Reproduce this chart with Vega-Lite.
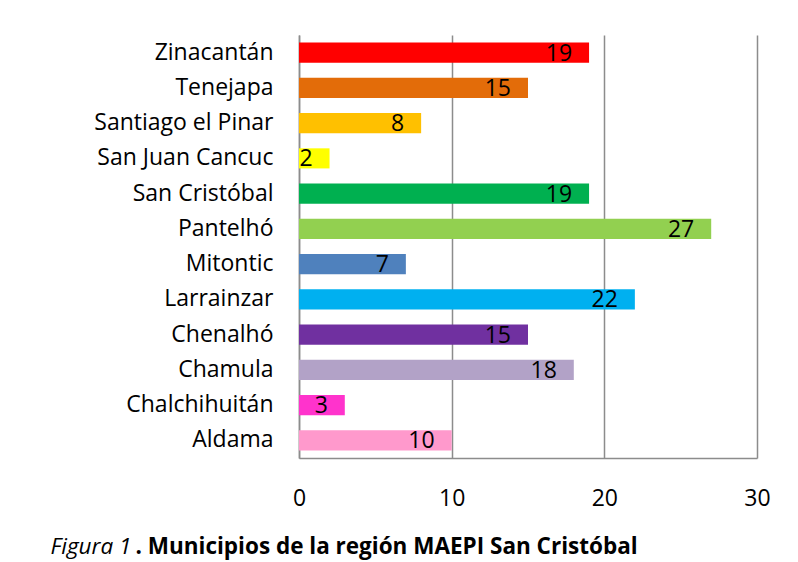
{
  "$schema": "https://vega.github.io/schema/vega-lite/v6.json",
  "width": 458,
  "height": 423,
  "autosize": {"type": "none"},
  "padding": {"left": 299, "top": 35, "right": 41, "bottom": 104},
  "background": "white",
  "config": {
    "font": "Open Sans",
    "view": {"stroke": null},
    "axis": {"labelFont": "Open Sans", "titleFont": "Open Sans", "labelColor": "#000000", "titleColor": "#000000"}
  },
  "data": {
    "values": [
      {"municipio": "Zinacantán", "valor": 19, "color": "#FF0000"},
      {"municipio": "Tenejapa", "valor": 15, "color": "#E36C09"},
      {"municipio": "Santiago el Pinar", "valor": 8, "color": "#FFC000"},
      {"municipio": "San Juan Cancuc", "valor": 2, "color": "#FFFF00"},
      {"municipio": "San Cristóbal", "valor": 19, "color": "#00B050"},
      {"municipio": "Pantelhó", "valor": 27, "color": "#92D050"},
      {"municipio": "Mitontic", "valor": 7, "color": "#4F81BD"},
      {"municipio": "Larrainzar", "valor": 22, "color": "#00B0F0"},
      {"municipio": "Chenalhó", "valor": 15, "color": "#7030A0"},
      {"municipio": "Chamula", "valor": 18, "color": "#B2A2C7"},
      {"municipio": "Chalchihuitán", "valor": 3, "color": "#FF33CC"},
      {"municipio": "Aldama", "valor": 10, "color": "#FF99CC"}
    ]
  },
  "encoding": {
    "y": {
      "field": "municipio",
      "type": "nominal",
      "sort": null,
      "scale": {"paddingInner": 0.43, "paddingOuter": 0.215},
      "axis": {
        "title": "Figura 1",
        "titleAngle": 0,
        "titleX": -249,
        "titleY": 518,
        "titleAlign": "left",
        "titleBaseline": "alphabetic",
        "titleFontSize": 22.5,
        "titleFontStyle": "italic",
        "titleFontWeight": "normal",
        "labelFontSize": 23,
        "labelPadding": 26,
        "ticks": false,
        "domainColor": "#8C8C8C",
        "domainWidth": 1.5,
        "grid": false
      }
    },
    "x": {
      "field": "valor",
      "type": "quantitative",
      "scale": {"domain": [0, 30], "nice": false},
      "axis": {
        "values": [0, 10, 20, 30],
        "title": ". Municipios de la región MAEPI San Cristóbal",
        "titleX": -164,
        "titleY": 95,
        "titleAlign": "left",
        "titleAnchor": null,
        "titleBaseline": "alphabetic",
        "titleFontSize": 22.5,
        "titleFontWeight": "bold",
        "labelFontSize": 23,
        "labelPadding": 29,
        "labelFlush": false,
        "ticks": false,
        "grid": true,
        "gridColor": "#8C8C8C",
        "gridWidth": 1.5,
        "domainColor": "#8C8C8C",
        "domainWidth": 1.5
      }
    }
  },
  "layer": [
    {
      "mark": {"type": "bar"},
      "encoding": {
        "color": {"field": "color", "type": "nominal", "scale": null, "legend": null}
      }
    },
    {
      "mark": {"type": "text", "align": "right", "baseline": "middle", "dx": -17, "dy": 1, "fontSize": 23, "color": "#000000"},
      "encoding": {
        "text": {"field": "valor", "type": "quantitative"}
      }
    }
  ]
}
